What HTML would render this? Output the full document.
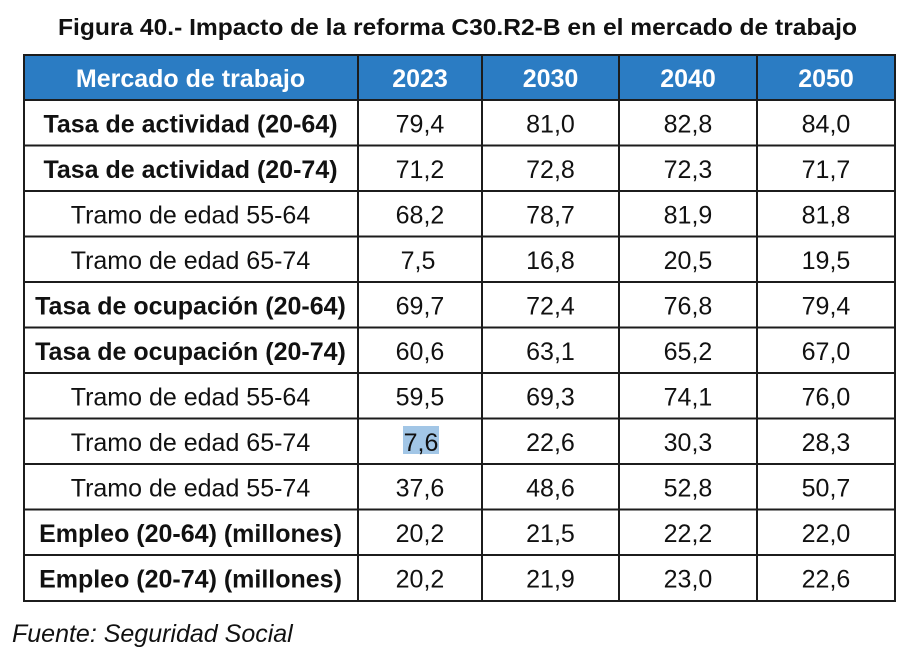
<!DOCTYPE html>
<html>
<head>
<meta charset="utf-8">
<style>
  html, body { margin: 0; padding: 0; background: #ffffff; }
  svg { display: block; }
  text { font-family: "Liberation Sans", Arial, sans-serif; }
</style>
</head>
<body>
<svg width="910" height="661" viewBox="0 0 910 661" xmlns="http://www.w3.org/2000/svg">
  <rect x="0" y="0" width="910" height="661" fill="#ffffff"/>

  <!-- Title -->
  <text x="457.5" y="35" text-anchor="middle" font-size="23.5" font-weight="bold" fill="#111" textLength="799" lengthAdjust="spacingAndGlyphs">Figura 40.- Impacto de la reforma C30.R2-B en el mercado de trabajo</text>

  <!-- Header background -->
  <rect x="24" y="55" width="871" height="45" fill="#2b7cc3"/>

  <!-- Highlight -->
  <rect x="403" y="426" width="36" height="28" fill="#a2c6e6"/>

  <!-- Grid lines -->
  <g stroke="#1c1c1c" stroke-width="2" fill="none">
    <rect x="24" y="55" width="871" height="546"/>
    <line x1="358" y1="55" x2="358" y2="601"/>
    <line x1="482" y1="55" x2="482" y2="601"/>
    <line x1="619" y1="55" x2="619" y2="601"/>
    <line x1="757" y1="55" x2="757" y2="601"/>
    <line x1="24" y1="100" x2="895" y2="100"/>
    <line x1="24" y1="145.5" x2="895" y2="145.5"/>
    <line x1="24" y1="191" x2="895" y2="191"/>
    <line x1="24" y1="236.5" x2="895" y2="236.5"/>
    <line x1="24" y1="282" x2="895" y2="282"/>
    <line x1="24" y1="327.5" x2="895" y2="327.5"/>
    <line x1="24" y1="373" x2="895" y2="373"/>
    <line x1="24" y1="418.5" x2="895" y2="418.5"/>
    <line x1="24" y1="464" x2="895" y2="464"/>
    <line x1="24" y1="509.5" x2="895" y2="509.5"/>
    <line x1="24" y1="555" x2="895" y2="555"/>
  </g>

  <!-- Header text -->
  <g font-size="25" font-weight="bold" fill="#ffffff" text-anchor="middle">
    <text x="190.5" y="87">Mercado de trabajo</text>
    <text x="420" y="87">2023</text>
    <text x="550.5" y="87">2030</text>
    <text x="688" y="87">2040</text>
    <text x="826" y="87">2050</text>
  </g>

  <!-- Row labels -->
  <g font-size="25" fill="#111" text-anchor="middle">
    <text x="190.5" y="132.5" font-weight="bold">Tasa de actividad (20-64)</text>
    <text x="190.5" y="178" font-weight="bold">Tasa de actividad (20-74)</text>
    <text x="190.5" y="223.5">Tramo de edad 55-64</text>
    <text x="190.5" y="269">Tramo de edad 65-74</text>
    <text x="190.5" y="314.5" font-weight="bold">Tasa de ocupación (20-64)</text>
    <text x="190.5" y="360" font-weight="bold">Tasa de ocupación (20-74)</text>
    <text x="190.5" y="405.5">Tramo de edad 55-64</text>
    <text x="190.5" y="451">Tramo de edad 65-74</text>
    <text x="190.5" y="496.5">Tramo de edad 55-74</text>
    <text x="190.5" y="542" font-weight="bold">Empleo (20-64) (millones)</text>
    <text x="190.5" y="587.5" font-weight="bold">Empleo (20-74) (millones)</text>
  </g>

  <!-- Values -->
  <g font-size="25" fill="#111" text-anchor="middle">
    <text x="420" y="132.5">79,4</text><text x="550.5" y="132.5">81,0</text><text x="688" y="132.5">82,8</text><text x="826" y="132.5">84,0</text>
    <text x="420" y="178">71,2</text><text x="550.5" y="178">72,8</text><text x="688" y="178">72,3</text><text x="826" y="178">71,7</text>
    <text x="420" y="223.5">68,2</text><text x="550.5" y="223.5">78,7</text><text x="688" y="223.5">81,9</text><text x="826" y="223.5">81,8</text>
    <text x="418" y="269">7,5</text><text x="550.5" y="269">16,8</text><text x="688" y="269">20,5</text><text x="826" y="269">19,5</text>
    <text x="420" y="314.5">69,7</text><text x="550.5" y="314.5">72,4</text><text x="688" y="314.5">76,8</text><text x="826" y="314.5">79,4</text>
    <text x="420" y="360">60,6</text><text x="550.5" y="360">63,1</text><text x="688" y="360">65,2</text><text x="826" y="360">67,0</text>
    <text x="420" y="405.5">59,5</text><text x="550.5" y="405.5">69,3</text><text x="688" y="405.5">74,1</text><text x="826" y="405.5">76,0</text>
    <text x="421" y="451">7,6</text><text x="550.5" y="451">22,6</text><text x="688" y="451">30,3</text><text x="826" y="451">28,3</text>
    <text x="420" y="496.5">37,6</text><text x="550.5" y="496.5">48,6</text><text x="688" y="496.5">52,8</text><text x="826" y="496.5">50,7</text>
    <text x="420" y="542">20,2</text><text x="550.5" y="542">21,5</text><text x="688" y="542">22,2</text><text x="826" y="542">22,0</text>
    <text x="420" y="587.5">20,2</text><text x="550.5" y="587.5">21,9</text><text x="688" y="587.5">23,0</text><text x="826" y="587.5">22,6</text>
  </g>

  <!-- Source -->
  <text x="12" y="642" font-size="25" font-style="italic" fill="#111">Fuente: Seguridad Social</text>
</svg>
</body>
</html>
